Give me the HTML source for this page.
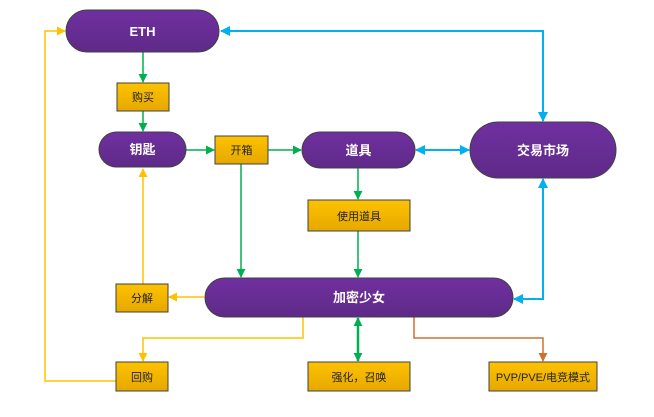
<!DOCTYPE html>
<html><head><meta charset="utf-8"><style>
body{margin:0;background:#fff}
svg{display:block}
text{font-family:"Liberation Sans","Noto Sans CJK SC",sans-serif}
</style></head><body>
<svg width="654" height="417" viewBox="0 0 654 417" xmlns="http://www.w3.org/2000/svg">
<defs>
<linearGradient id="p" x1="0" y1="0" x2="0" y2="1"><stop offset="0" stop-color="#7030a0"/><stop offset="1" stop-color="#5e2a88"/></linearGradient>
<linearGradient id="y" x1="0" y1="0" x2="0" y2="1"><stop offset="0" stop-color="#fdc200"/><stop offset="1" stop-color="#e6a800"/></linearGradient>
<marker id="ag" viewBox="0 0 10 10" refX="9" refY="5" markerUnits="userSpaceOnUse" markerWidth="9" markerHeight="9" orient="auto-start-reverse"><path d="M0,0L10,5L0,10z" fill="#00b050"/></marker>
<marker id="ab" viewBox="0 0 10 10" refX="9" refY="5" markerUnits="userSpaceOnUse" markerWidth="10" markerHeight="10" orient="auto-start-reverse"><path d="M0,0L10,5L0,10z" fill="#00b0f0"/></marker>
<marker id="ay" viewBox="0 0 10 10" refX="9" refY="5" markerUnits="userSpaceOnUse" markerWidth="9" markerHeight="9" orient="auto-start-reverse"><path d="M0,0L10,5L0,10z" fill="#ffc000"/></marker>
<marker id="ao" viewBox="0 0 10 10" refX="9" refY="5" markerUnits="userSpaceOnUse" markerWidth="9" markerHeight="9" orient="auto-start-reverse"><path d="M0,0L10,5L0,10z" fill="#d07030"/></marker>
</defs>
<g fill="none" stroke-width="1.5">
<path d="M143,52V82" stroke="#00b050" marker-end="url(#ag)"/>
<path d="M143,111V131" stroke="#00b050" marker-end="url(#ag)"/>
<path d="M186,150H214" stroke="#00b050" marker-end="url(#ag)"/>
<path d="M268,150H301" stroke="#00b050" marker-end="url(#ag)"/>
<path d="M241,164V277" stroke="#00b050" marker-end="url(#ag)"/>
<path d="M358,168V199" stroke="#00b050" marker-end="url(#ag)"/>
<path d="M358,231V277" stroke="#00b050" marker-end="url(#ag)"/>
<path d="M358,318V361" stroke="#00b050" stroke-width="2.5" marker-start="url(#ag)" marker-end="url(#ag)"/>
<path d="M221,31H543V121" stroke="#00b0f0" stroke-width="2" marker-start="url(#ab)" marker-end="url(#ab)"/>
<path d="M416,150H469" stroke="#00b0f0" stroke-width="2" marker-start="url(#ab)" marker-end="url(#ab)"/>
<path d="M543,179V299H514" stroke="#00b0f0" stroke-width="2" marker-start="url(#ab)" marker-end="url(#ab)"/>
<path d="M116,381H45V31H65" stroke="#ffc000" marker-end="url(#ay)"/>
<path d="M143,284V169" stroke="#ffc000" marker-end="url(#ay)"/>
<path d="M204,297H169" stroke="#ffc000" marker-end="url(#ay)"/>
<path d="M303,317V338H143V361" stroke="#ffc000" marker-end="url(#ay)"/>
<path d="M414,317V338H543V361" stroke="#d07030" marker-end="url(#ao)"/>
</g>
<g stroke="#404040" stroke-width="1">
<rect x="66" y="10" width="153" height="42" rx="21" fill="url(#p)"/>
<rect x="99" y="132" width="87" height="35" rx="17.5" fill="url(#p)"/>
<rect x="302" y="132" width="113" height="36" rx="18" fill="url(#p)"/>
<rect x="470" y="122" width="146" height="56" rx="28" fill="url(#p)"/>
<rect x="205" y="278" width="308" height="39" rx="19.5" fill="url(#p)"/>
<rect x="117" y="83" width="52" height="28" fill="url(#y)"/>
<rect x="215" y="136" width="53" height="28" fill="url(#y)"/>
<rect x="308" y="200" width="102" height="31" fill="url(#y)"/>
<rect x="116" y="284" width="52" height="28" fill="url(#y)"/>
<rect x="116" y="362" width="52" height="29" fill="url(#y)"/>
<rect x="308" y="362" width="102" height="29" fill="url(#y)"/>
<rect x="489" y="362" width="108" height="29" fill="url(#y)"/>
</g>
<g font-size="13" font-weight="bold" fill="#fff" text-anchor="middle">
<text x="142.5" y="36">ETH</text>
<text x="142.5" y="154">钥匙</text>
<text x="358.5" y="155">道具</text>
<text x="543" y="155">交易市场</text>
<text x="359" y="302">加密少女</text>
</g>
<g font-size="11" fill="#222" text-anchor="middle">
<text x="143" y="101">购买</text>
<text x="241.5" y="154">开箱</text>
<text x="359" y="220">使用道具</text>
<text x="142" y="302">分解</text>
<text x="142" y="381">回购</text>
<text x="359" y="381">强化，召唤</text>
<text x="543" y="381">PVP/PVE/电竞模式</text>
</g>
</svg>
</body></html>
